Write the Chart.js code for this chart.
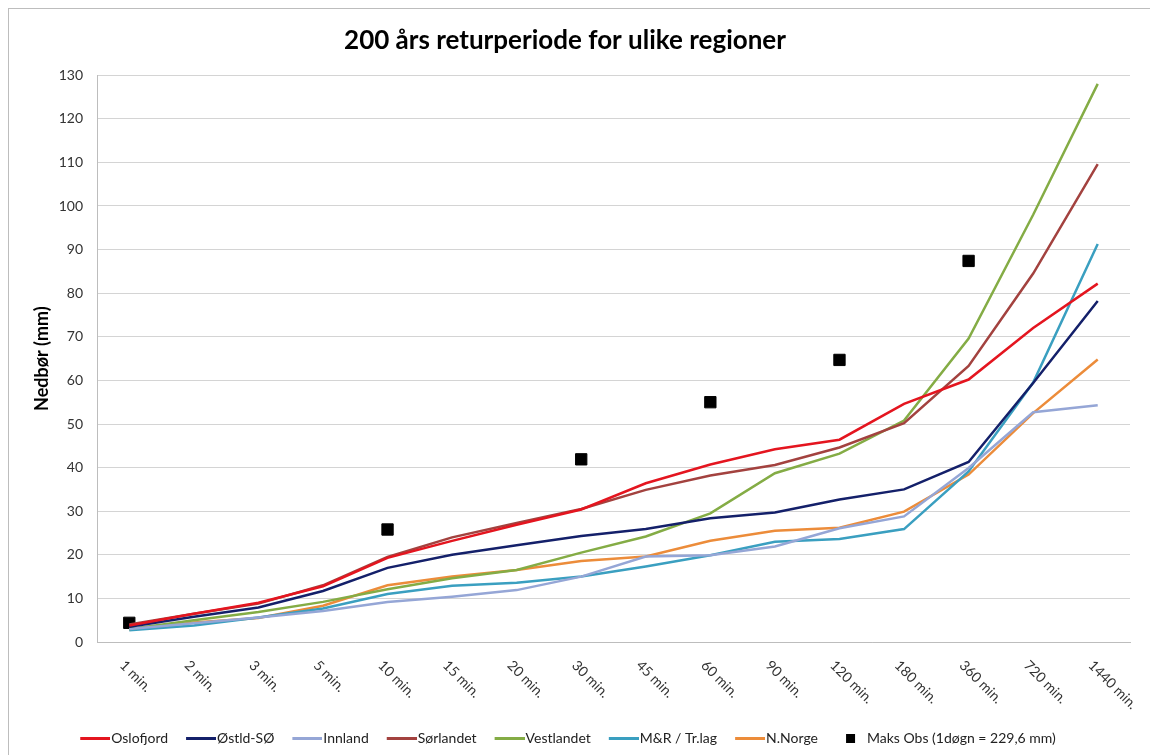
<!DOCTYPE html>
<html>
<head>
<meta charset="utf-8">
<title>200 års returperiode for ulike regioner</title>
<script src="https://cdn.jsdelivr.net/npm/chart.js@4/dist/chart.umd.min.js"></script>
<style>
    html, body { margin: 0; padding: 0; background: #fff; }
    #wrap { position: relative; width: 1150px; height: 755px; }
</style>
</head>
<body>
<div id="wrap"><canvas id="chart" width="1150" height="755"></canvas></div>
<script>
// Varighet (x-akse)
var durations = ['1 min.', '2 min.', '3 min.', '5 min.', '10 min.', '15 min.', '20 min.', '30 min.',
    '45 min.', '60 min.', '90 min.', '120 min.', '180 min.', '360 min.', '720 min.', '1440 min.'];

// Nedbør (mm), 200 års returperiode
var oslofjord     = [3.8, 6.5, 9.0, 12.8, 19.3, 23.2, 26.9, 30.4, 36.4, 40.7, 44.2, 46.4, 54.6, 60.2, 72.0, 82.2];
var ostlandSO     = [3.5, 5.8, 7.9, 11.7, 17.0, 20.0, 22.2, 24.3, 25.9, 28.4, 29.7, 32.7, 35.0, 41.3, 59.4, 78.2];
var innland       = [3.0, 4.3, 5.6, 7.1, 9.2, 10.4, 11.9, 15.0, 19.6, 19.9, 21.9, 26.1, 28.8, 39.9, 52.7, 54.3];
var sorlandet     = [4.0, 6.5, 8.8, 13.0, 19.5, 24.0, 27.3, 30.5, 34.9, 38.2, 40.6, 44.6, 50.2, 63.3, 84.5, 109.6];
var vestlandet    = [3.0, 5.0, 6.9, 9.2, 12.1, 14.6, 16.5, 20.5, 24.2, 29.5, 38.7, 43.2, 50.8, 69.6, 98.0, 128.0];
var moreTrondelag = [2.7, 3.8, 5.6, 7.7, 11.0, 12.9, 13.6, 15.0, 17.3, 19.9, 23.0, 23.6, 25.9, 39.1, 59.5, 91.3];
var nordNorge     = [2.8, 4.5, 5.5, 8.3, 13.0, 15.0, 16.5, 18.6, 19.6, 23.2, 25.5, 26.2, 29.9, 38.4, 52.5, 64.8];
var maksObs       = [4.4, null, null, null, 25.8, null, null, 41.9, null, 55.0, null, 64.7, null, 87.4, null, null];

var yTicks = { min: 0, max: 130, step: 10 };

var FONT = 'Lato, "Open Sans", "DejaVu Sans", sans-serif';

function lineSet(label, data, color) {
    return {
        label: label,
        data: data,
        borderColor: color,
        backgroundColor: color,
        borderWidth: 2.5,
        pointRadius: 0,
        pointHoverRadius: 0,
        tension: 0,
        fill: false
    };
}

// legend symbols: 42px wide canvases, drawn centred on the 30px box,
// so the line runs right up to the label like in Excel
function legendLine(color) {
    var c = document.createElement('canvas');
    c.width = 42; c.height = 3;
    var g = c.getContext('2d');
    g.fillStyle = color;
    g.fillRect(12, 0, 30, 3);
    return c;
}
function legendSquare() {
    var c = document.createElement('canvas');
    c.width = 42; c.height = 9;
    var g = c.getContext('2d');
    g.fillStyle = '#000';
    g.fillRect(22, 0, 9, 9);
    return c;
}

var framePlugin = {
    id: 'frame',
    beforeDraw: function (chart) {
        var ctx = chart.ctx;
        ctx.save();
        ctx.fillStyle = '#fff';
        ctx.fillRect(0, 0, chart.width, chart.height);
        ctx.strokeStyle = '#bdbdbd';
        ctx.lineWidth = 1;
        ctx.strokeRect(8.5, 8.5, chart.width + 10, chart.height + 10);
        ctx.restore();
    }
};

// category labels turned 45 degrees, reading downwards like the original
var slantLabels = {
    id: 'slantLabels',
    afterDraw: function (chart) {
        var sc = chart.scales.x, ctx = chart.ctx;
        ctx.save();
        ctx.font = '14px ' + FONT;
        ctx.fillStyle = '#333';
        ctx.textAlign = 'left';
        ctx.textBaseline = 'middle';
        sc.ticks.forEach(function (t, i) {
            var x = sc.getPixelForTick(i);
            ctx.save();
            ctx.translate(x - 7, sc.top + 21);
            ctx.rotate(Math.PI / 4);
            ctx.fillText(sc.getLabelForValue(t.value), 0, 0);
            ctx.restore();
        });
        ctx.restore();
    }
};

new Chart(document.getElementById('chart'), {
    type: 'line',
    data: {
        labels: durations,
        datasets: [
            lineSet('Oslofjord', oslofjord, '#e4151f'),
            lineSet('Østld-SØ', ostlandSO, '#14206a'),
            lineSet('Innland', innland, '#95a6d6'),
            lineSet('Sørlandet', sorlandet, '#a3423f'),
            lineSet('Vestlandet', vestlandet, '#84ac45'),
            lineSet('M&R / Tr.lag', moreTrondelag, '#3a9fc0'),
            lineSet('N.Norge', nordNorge, '#ec8c3a'),
            {
                label: 'Maks Obs (1døgn = 229,6 mm)',
                data: maksObs,
                showLine: false,
                pointStyle: 'rect',
                pointRadius: 8,
                pointHoverRadius: 8,
                pointBackgroundColor: '#000',
                pointBorderColor: '#000',
                borderColor: '#000',
                backgroundColor: '#000'
            }
        ]
    },
    options: {
        responsive: false,
        animation: false,
        layout: { padding: { top: 25, right: 20, bottom: 0, left: 0 } },
        plugins: {
            title: {
                display: true,
                text: '200 års returperiode for ulike regioner',
                color: '#000',
                font: { family: FONT, size: 26, weight: 'bold' },
                padding: { top: 0, bottom: 19 }
            },
            legend: {
                position: 'bottom',
                labels: {
                    usePointStyle: true,
                    pointStyleWidth: 30,
                    color: '#222',
                    padding: 12,
                    font: { family: FONT, size: 14 },
                    generateLabels: function (chart) {
                        var items = Chart.defaults.plugins.legend.labels.generateLabels(chart);
                        items.forEach(function (it) {
                            var ds = chart.data.datasets[it.datasetIndex];
                            it.pointStyle = ds.showLine === false ? legendSquare() : legendLine(ds.borderColor);
                        });
                        return items;
                    }
                }
            },
            tooltip: { enabled: false }
        },
        scales: {
            x: {
                offset: true,
                grid: { display: false },
                border: { display: true, color: '#bdbdbd' },
                ticks: { display: false },
                afterFit: function (s) { s.height = 77; }
            },
            y: {
                min: yTicks.min,
                max: yTicks.max,
                border: { display: true, color: '#bdbdbd' },
                grid: { color: '#d4d4d4', drawTicks: false },
                ticks: {
                    stepSize: yTicks.step,
                    padding: 14,
                    color: '#333',
                    font: { family: FONT, size: 14 }
                },
                title: {
                    display: true,
                    text: 'Nedbør (mm)',
                    color: '#000',
                    font: { family: FONT, size: 18, weight: 'bold' },
                    padding: { top: 31, bottom: 0 }
                },
                afterFit: function (s) { s.width = 97; }
            }
        }
    },
    plugins: [framePlugin, slantLabels]
});
</script>
</body>
</html>
